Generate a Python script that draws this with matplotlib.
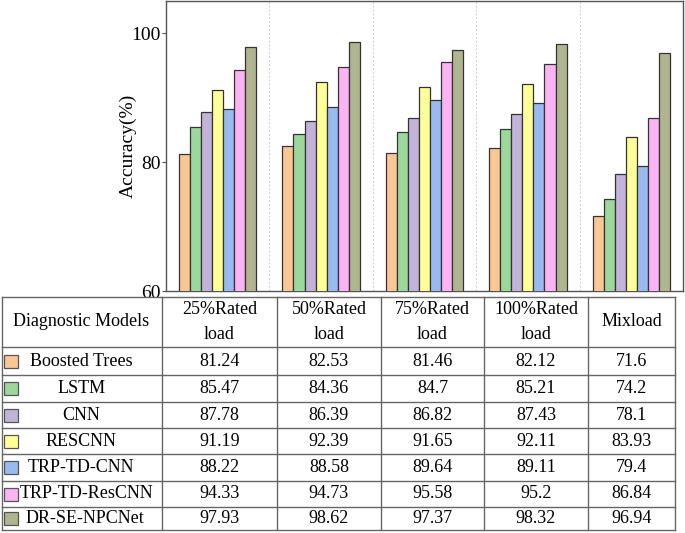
import matplotlib.pyplot as plt
import numpy as np

plt.rcParams['font.family'] = ['Liberation Serif', 'DejaVu Serif']

conditions = ['25%Rated\nload', '50%Rated\nload', '75%Rated\nload',
              '100%Rated\nload', 'Mixload']
models = ['Boosted Trees', 'LSTM', 'CNN', 'RESCNN', 'TRP-TD-CNN',
          'TRP-TD-ResCNN', 'DR-SE-NPCNet']
boosted = [81.24, 82.53, 81.46, 82.12, 71.6]
lstm = [85.47, 84.36, 84.7, 85.21, 74.2]
cnn = [87.78, 86.39, 86.82, 87.43, 78.1]
rescnn = [91.19, 92.39, 91.65, 92.11, 83.93]
trp_cnn = [88.22, 88.58, 89.64, 89.11, 79.4]
trp_rescnn = [94.33, 94.73, 95.58, 95.2, 86.84]
drse = [97.93, 98.62, 97.37, 98.32, 96.94]
values = [boosted, lstm, cnn, rescnn, trp_cnn, trp_rescnn, drse]
colors = ['#F9C795', '#9CD79C', '#C3B2D9', '#FFFF99', '#99BAF0',
          '#FBB3F4', '#B0B590']

W, H = 685, 533
fig = plt.figure(figsize=(W / 100, H / 100), dpi=100)

# bar chart
ax = fig.add_axes([166 / W, (H - 291) / H, (683 - 166) / W, 290 / H])
x = np.arange(len(conditions))
bw = 0.107
for i, (vals, c) in enumerate(zip(values, colors)):
    ax.bar(x + (i - 3) * bw, vals, bw, color=c, edgecolor='#333333',
           linewidth=0.9, zorder=3)
ax.set_ylim(60, 105)
ax.set_xlim(-0.5, 4.5)
ax.set_yticks([60, 80, 100])
ax.set_xticks(x)
ax.set_xticklabels([])
ax.set_xticks(x[:-1] + 0.5, minor=True)
ax.tick_params(axis='x', which='major', direction='in', length=3, color='#555555')
ax.tick_params(axis='x', which='minor', length=0)
ax.tick_params(axis='y', direction='out', length=3, labelsize=14,
               color='#555555', pad=1)
ax.grid(axis='x', which='minor', linestyle=(0, (2, 2)), color='#cccccc',
        linewidth=0.7)
for s in ax.spines.values():
    s.set_color('#555555')
    s.set_linewidth(1.0)
ax.set_ylabel('Accuracy(%)', fontsize=14, labelpad=-4)

# table below
tab = fig.add_axes([0, 0, 1, 1])
tab.set_xlim(0, W)
tab.set_ylim(H, 0)
tab.axis('off')
col_edges = [2, 162, 277, 381, 484, 588, 675]
row_edges = [297, 347, 375, 402, 428, 454, 481, 507, 530]
lc = '#666666'
for xe in col_edges:
    tab.plot([xe, xe], [row_edges[0], row_edges[-1]], color=lc, lw=1)
for ye in row_edges:
    tab.plot([col_edges[0], col_edges[-1]], [ye, ye], color=lc, lw=1)

fs = 13
tab.text(81, (row_edges[0] + row_edges[1]) / 2, 'Diagnostic Models',
         ha='center', va='center', fontsize=fs)
for j, cond in enumerate(conditions):
    cx = (col_edges[j + 1] + col_edges[j + 2]) / 2
    tab.text(cx, (row_edges[0] + row_edges[1]) / 2, cond, ha='center',
             va='center', fontsize=fs, linespacing=1.6)
name_x = [81, 82, 81, 81, 81, 87, 85]
for i, (name, vals, c) in enumerate(zip(models, values, colors)):
    cy = (row_edges[i + 1] + row_edges[i + 2]) / 2
    tab.add_patch(plt.Rectangle((4, cy - 6.5), 14, 13, fc=c, ec='#555555',
                                lw=0.9))
    tab.text(name_x[i], cy, name, ha='center', va='center', fontsize=fs)
    for j, v in enumerate(vals):
        cx = (col_edges[j + 1] + col_edges[j + 2]) / 2
        tab.text(cx, cy, f'{v:g}', ha='center', va='center', fontsize=fs)

fig.savefig('out.png', dpi=100)
